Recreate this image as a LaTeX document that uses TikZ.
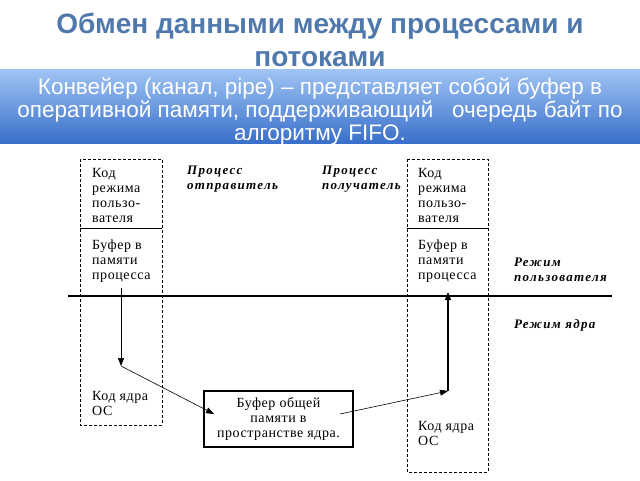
\documentclass[tikz,border=0pt]{standalone}
\usepackage{fontspec}
\setmainfont{Liberation Serif}
\setsansfont{Liberation Sans}
\newfontfamily\boxfont{Liberation Serif}[LetterSpace=4]
\newfontfamily\modefont{Liberation Serif}[LetterSpace=10]
\usetikzlibrary{arrows.meta}
\definecolor{titleblue}{RGB}{79,121,172}
\definecolor{bandtop}{RGB}{160,196,244}
\definecolor{bandbot}{RGB}{58,112,202}
\begin{document}
\begin{tikzpicture}[x=1pt,y=-1pt,
  boxtext/.style={anchor=north west,inner sep=0pt,align=left,font=\boxfont\fontsize{14}{15}\selectfont},
  modetext/.style={anchor=north west,inner sep=0pt,align=left,font=\modefont\fontsize{13}{15}\selectfont\bfseries\itshape},
  procline/.style={dash pattern=on 3pt off 2pt},
  tip/.style={-{Triangle[length=8pt,width=6pt]}}]
\useasboundingbox (0,0) rectangle (640,480);
\node (title) at (320,40) [align=center,text=titleblue,font=\fontsize{28}{33}\selectfont\sffamily\bfseries]
  {Обмен данными между процессами и\\потоками};
\node (band) at (320,106) [minimum width=640pt,minimum height=74pt,inner sep=0pt,top color=bandtop,bottom color=bandbot] {};
\node (pipe) at (320,111) [text=white,align=center,font=\fontsize{22.5}{23}\selectfont\sffamily]
  {Конвейер (канал, pipe) – представляет собой буфер в\\оперативной памяти, поддерживающий \ \ очередь байт по\\алгоритму FIFO.};

\draw[procline] (80,159) rectangle (162,425);
\draw (80,228) -- (162,228);
\draw[procline] (407,159) rectangle (488,472);
\draw (407,228) -- (488,228);

\node (sndcode) at (92,168) [boxtext] {Код\\режима\\пользо-\\вателя};
\node (sndbuf) at (92,240) [boxtext] {Буфер в\\памяти\\процесса};
\node (sndos) at (92,391) [boxtext] {Код ядра\\ОС};
\node (rcvcode) at (418,168) [boxtext] {Код\\режима\\пользо-\\вателя};
\node (rcvbuf) at (418,240) [boxtext] {Буфер в\\памяти\\процесса};
\node (rcvos) at (418,421) [boxtext] {Код ядра\\ОС};

\node (sender) at (187,166) [modetext] {Процесс\\отправитель};
\node (receiver) at (322,166) [modetext] {Процесс\\получатель};
\node (usermode) at (514,258) [modetext] {Режим\\пользователя};
\node (kernmode) at (514,319) [modetext] {Режим ядра};

\draw[line width=2.2pt] (68,296) -- (612,296);

\node (shm) at (278.5,419) [draw,line width=2pt,minimum width=149pt,minimum height=56pt,align=center,
  font=\boxfont\fontsize{14}{15}\selectfont] {Буфер общей\\памяти в\\пространстве ядра.};

\coordinate (a1) at (121,288);
\coordinate (a2) at (121,366);
\coordinate (a3) at (214,414);
\coordinate (b1) at (340,414);
\coordinate (b2) at (448,391);
\coordinate (b3) at (448,292);
\draw[semithick,tip] (a1) -- (a2);
\draw[semithick,tip] (a2) -- (a3);
\draw[semithick,tip] (b1) -- (b2);
\draw[line width=1.4pt,tip] (b2) -- (b3);
\end{tikzpicture}
\end{document}
